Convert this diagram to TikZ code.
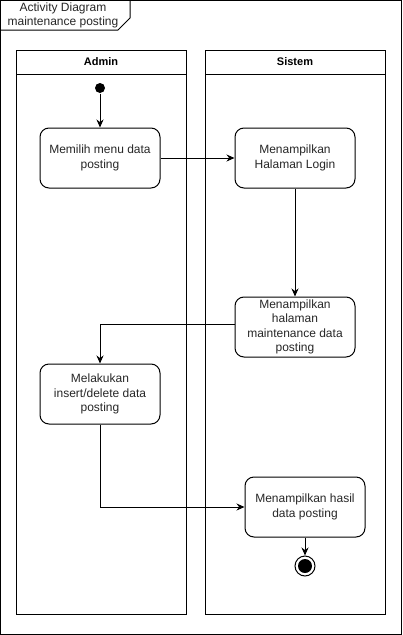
\documentclass[tikz,border=0pt]{standalone}
\usepackage{fontspec}
\setmainfont{Liberation Sans}
\usetikzlibrary{arrows.meta,calc}
\begin{document}
\begin{tikzpicture}[x=1pt,y=-1pt,
  line width=1pt,
  act/.style={draw, rounded corners=9pt, minimum width=120pt, minimum height=60pt, align=center, font=\fontsize{12}{14.5}\selectfont, text=black!85, inner sep=2pt},
  lane/.style={draw},
  flow/.style={-{Stealth[length=8pt,width=7pt]}, line width=1pt},
  lbl/.style={font=\fontsize{12}{14}\selectfont, align=center, text=black!85},
  hdr/.style={font=\bfseries\fontsize{11}{13}\selectfont}
]
\useasboundingbox (0,0) rectangle (402,635);
% outer frame
\draw (0.5,0.5) rectangle (401.5,634.5);
\draw (0.5,30) -- (118,30) -- (130,18) -- (130,0.5);
\node[lbl] (title) at (63,15) {Activity Diagram\\maintenance posting};
% lanes
\draw[lane] (16,50) rectangle (186,614);
\draw (16,74) -- (186,74);
\node[hdr] (admin) at (101,62) {Admin};
\draw[lane] (205,50) rectangle (385,614);
\draw (205,74) -- (385,74);
\node[hdr] (sistem) at (295,62) {Sistem};
% nodes
\node[circle, fill=black, inner sep=0pt, minimum size=10pt] (start) at (100,88) {};
\node[act] (a1) at (100,158) {Memilih menu data\\posting};
\node[act] (s1) at (295,158) {Menampilkan\\Halaman Login};
\node[act] (s2) at (295,327) {Menampilkan\\halaman\\maintenance data\\posting};
\node[act] (a2) at (100,394) {Melakukan\\insert/delete data\\posting};
\node[act] (s3) at (305,507) {Menampilkan hasil\\data posting};
\node[circle, draw, fill=white, inner sep=0pt, minimum size=20pt, line width=1pt] (end) at (305,566) {};
\node[circle, fill=black, inner sep=0pt, minimum size=14pt] (endin) at (305,566) {};
% connectors
\draw[flow] (start) -- (a1);
\draw[flow] (a1) -- (s1);
\draw[flow] (s1) -- (s2);
\coordinate (c1) at (100,324);
\draw[flow] (s2.west |- c1) -- (c1) -- (a2.north);
\coordinate (c2) at (100,507);
\draw[flow] (a2.south) -- (c2) -- (s3.west);
\draw[flow] (s3.south) -- (end.north);
\end{tikzpicture}
\end{document}
